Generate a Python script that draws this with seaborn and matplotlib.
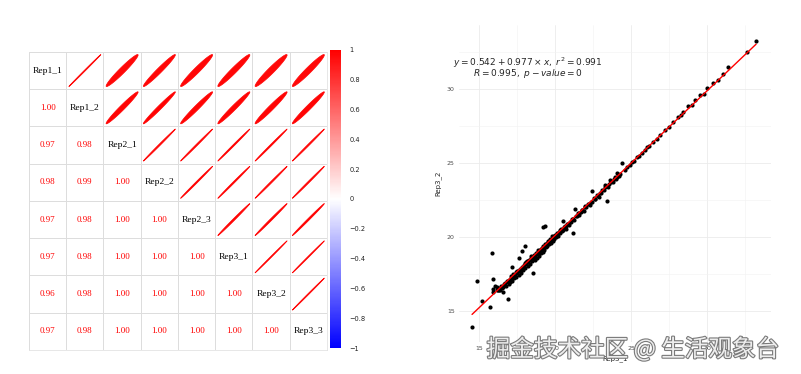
import numpy as np
import matplotlib
matplotlib.use("Agg")
import matplotlib.pyplot as plt
import matplotlib.patheffects as pe
from matplotlib.colors import LinearSegmentedColormap, ListedColormap, Normalize
from matplotlib.cm import ScalarMappable
from matplotlib.patches import Polygon
import seaborn as sns

# %%
samples = ["Rep1_1", "Rep1_2", "Rep2_1", "Rep2_2", "Rep2_3", "Rep3_1", "Rep3_2", "Rep3_3"]

# lower triangle of the correlation matrix (row i, columns 0..i-1)
corr_lower = [
    [0.999],
    [0.968, 0.978],
    [0.976, 0.986, 0.998],
    [0.970, 0.980, 0.998, 0.998],
    [0.970, 0.980, 0.998, 0.998, 0.997],
    [0.964, 0.977, 0.998, 0.998, 0.997, 0.999],
    [0.968, 0.980, 0.998, 0.998, 0.997, 0.999, 0.999],
]

# Rep3_1 vs Rep3_2
rep3_1 = [
    33.22, 32.65, 31.40, 31.02, 30.72, 30.41, 30.02, 29.80, 29.54, 29.21, 29.00, 28.75,
    28.42, 28.30, 28.09, 27.76, 27.50, 27.24, 26.91, 26.70, 26.45, 26.20, 26.05, 25.90,
    25.72, 25.55, 25.39, 25.20, 25.07, 24.90, 24.74, 24.60, 24.39, 24.30, 24.20, 24.10,
    24.08, 24.00, 23.90, 23.80, 23.62, 23.29,
    23.95, 23.70, 23.55, 23.45, 23.40, 23.30, 23.20, 23.10, 23.05, 22.95, 22.85, 22.75,
    22.65, 22.55, 22.41, 22.45, 22.35, 22.25, 22.15, 22.05, 21.95, 21.90, 21.80, 21.70,
    21.60, 21.55, 21.45, 21.35, 21.30, 21.25, 21.20, 21.15, 21.05, 20.95, 20.90, 20.85,
    20.75, 20.70, 20.65, 20.55, 20.50, 20.45, 20.40, 20.30, 20.25, 20.20, 20.15, 20.05,
    20.00, 19.95, 19.90, 19.85, 19.80, 19.75, 19.70, 19.65, 19.60, 19.55, 19.50, 19.45,
    19.40,
    19.35, 19.30, 19.25, 19.23, 19.35, 19.20, 19.15, 19.10, 19.05, 19.00, 18.95, 18.90,
    18.85, 18.80, 18.75, 18.70, 18.65, 18.60, 18.57, 18.55, 18.50, 18.45, 18.40, 18.35,
    18.30, 18.25, 18.20, 18.15, 18.10, 18.05, 18.03, 18.00, 17.95, 17.90, 17.85, 17.80,
    17.75, 17.70, 17.65, 17.60, 17.55, 17.50, 17.45, 17.40, 17.35, 17.30, 17.25, 17.20,
    17.15, 17.10, 17.05, 17.00, 16.95, 16.93, 16.85, 16.80, 16.70, 16.60, 16.55, 16.45,
    16.40, 16.35, 16.25, 16.20, 16.15, 16.05, 15.95, 15.90, 15.94, 15.84, 15.72, 15.20,
    14.89, 14.54,
    # extra points inside the dense band
    22.90, 22.60, 22.30, 22.00, 21.75, 21.50, 21.10, 20.80, 20.60, 20.35, 20.10, 19.88,
    19.62, 19.42, 19.18, 18.98, 18.78, 18.62, 18.42, 18.22, 18.08, 17.88, 17.68, 17.48,
    17.28, 17.12, 16.90, 16.65, 16.50, 16.30,
]
rep3_2 = [
    33.24, 32.52, 31.50, 31.00, 30.61, 30.39, 30.05, 29.70, 29.59, 29.26, 28.90, 28.85,
    28.45, 28.22, 28.11, 27.77, 27.45, 27.23, 26.89, 26.65, 26.42, 26.15, 26.08, 25.85,
    25.68, 25.50, 25.41, 25.15, 25.07, 24.85, 24.73, 24.55, 25.02, 24.25, 24.10, 24.05,
    24.32, 23.90, 23.95, 23.75, 23.85, 23.51,
    24.05, 23.72, 23.60, 23.40, 22.45, 23.35, 23.15, 23.20, 22.95, 23.00, 22.80, 22.85,
    22.60, 22.62, 23.13, 22.40, 22.38, 22.20, 22.25, 22.00, 22.02, 21.75, 21.85, 21.72,
    21.48, 21.62, 21.40, 21.45, 21.87, 21.15, 20.30, 21.20, 21.00, 21.05, 20.80, 20.90,
    20.75, 20.55, 20.72, 20.50, 21.10, 20.40, 20.55, 20.25, 20.35, 20.10, 20.22, 20.00,
    20.15, 19.90, 20.05, 19.75, 20.10, 19.80, 19.60, 19.85, 19.55, 19.70, 19.40, 19.60,
    19.30,
    19.50, 19.10, 19.35, 20.70, 20.75, 19.00, 19.25, 18.90, 19.20, 19.05, 18.75, 19.10,
    18.85, 18.60, 18.95, 18.70, 18.45, 18.80, 17.55, 18.55, 18.35, 18.70, 18.50, 18.20,
    18.45, 18.30, 18.05, 18.40, 18.15, 17.90, 19.39, 18.25, 18.10, 17.75, 19.05, 18.00,
    17.60, 17.85, 18.60, 17.45, 17.70, 17.55, 17.30, 17.65, 17.40, 17.20, 17.50, 17.97,
    17.05, 17.25, 16.95, 17.10, 16.85, 15.80, 17.00, 16.70, 16.90, 16.30, 16.60, 16.70,
    16.45, 16.55, 16.40, 16.60, 16.45, 16.70, 16.50, 16.30, 17.14, 18.90, 15.29, 15.70,
    17.05, 13.90,
    22.70, 22.55, 22.15, 22.10, 21.80, 21.60, 21.25, 20.85, 20.70, 20.45, 20.30, 19.95,
    19.70, 19.45, 19.40, 19.15, 18.90, 18.65, 18.60, 18.35, 18.30, 17.95, 17.80, 17.70,
    17.35, 17.35, 16.95, 16.85, 16.55, 16.45,
]

eq_line1 = r"$y = 0.542 + 0.977 \times x,\ r^2 = 0.991$"
eq_line2 = r"$R = 0.995,\ p-value = 0$"
watermark = "掘金技术社区 @ 生活观象台"

# %%
n = len(samples)
corr = np.eye(n)
for i, row in enumerate(corr_lower, start=1):
    for j, v in enumerate(row):
        corr[i, j] = v
        corr[j, i] = v

sns.set_theme(style="white")
plt.rcParams["mathtext.fontset"] = "dejavusans"

cmap = LinearSegmentedColormap.from_list("bwr_pure", ["#0000ff", "#ffffff", "#ff0000"])
norm = Normalize(vmin=-1, vmax=1)

fig = plt.figure(figsize=(8.01, 3.74), dpi=100)

# %%
# correlogram: ellipses up, numbers down, names on the diagonal
ax1 = fig.add_axes([0.0362, 0.0642, 0.372, 0.797])
sns.heatmap(
    np.zeros((n, n)),
    cmap=ListedColormap(["white"]),
    cbar=False,
    linewidths=0.5,
    linecolor="#dddddd",
    xticklabels=False,
    yticklabels=False,
    ax=ax1,
)
for side in ax1.spines.values():
    side.set_visible(True)
    side.set_color("#dddddd")
    side.set_linewidth(0.5)

serif = "Liberation Serif"
t = np.linspace(0, 2 * np.pi, 120)
for i in range(n):
    for j in range(n):
        r = corr[i, j]
        cx, cy = j + 0.5, i + 0.5
        if i == j:
            ax1.text(cx, cy, samples[i], ha="center", va="center",
                     fontsize=6.8, family=serif, color="black")
        elif i > j:
            ax1.text(cx, cy, f"{r:.2f}", ha="center", va="center",
                     fontsize=6.5, family=serif, color=cmap(norm(r)))
        else:
            d = np.arccos(np.clip(r, -1, 1))
            ex = cx + 0.43 * np.cos(t + d / 2)
            ey = cy - 0.43 * np.cos(t - d / 2)
            ax1.add_patch(Polygon(np.column_stack([ex, ey]), closed=True,
                                  facecolor=cmap(norm(r)), edgecolor=cmap(norm(r)),
                                  linewidth=0.5))

ticks = np.round(np.arange(-1, 1.01, 0.2), 1)
cax = fig.add_axes([0.412, 0.0695, 0.0137, 0.797])
cb = fig.colorbar(ScalarMappable(norm=norm, cmap=cmap), cax=cax, ticks=ticks)
cb.outline.set_visible(False)
cb.ax.set_yticklabels([f"{v:g}".replace("-", "\u2212") if abs(v) > 1e-9 else "0" for v in ticks])
cax.tick_params(length=0, labelsize=4.8, pad=6, colors="#222222")

# %%
# scatter with fitted line
ax2 = fig.add_axes([0.573, 0.0856, 0.3895, 0.8476])
sns.scatterplot(x=rep3_1, y=rep3_2, color="black", s=9, linewidth=0, ax=ax2, zorder=2)
sns.regplot(x=rep3_1, y=rep3_2, scatter=False, ci=None, truncate=True,
            color="red", line_kws={"linewidth": 1.0, "zorder": 3}, ax=ax2)

ax2.set_xlim(13.68, 34.2)
ax2.set_ylim(12.91, 34.33)
ax2.set_xticks([15, 20, 25, 30])
ax2.set_yticks([15, 20, 25, 30])
ax2.set_xticks([17.5, 22.5, 27.5, 32.5], minor=True)
ax2.set_yticks([17.5, 22.5, 27.5, 32.5], minor=True)
ax2.grid(which="major", color="#ebebeb", linewidth=0.6)
ax2.grid(which="minor", color="#f2f2f2", linewidth=0.4)
ax2.set_axisbelow(True)
for side in ax2.spines.values():
    side.set_visible(False)
ax2.tick_params(which="both", length=0, labelsize=4.5, labelcolor="#4d4d4d", pad=3)
ax2.set_xlabel("Rep3_1", fontsize=5, labelpad=3)
ax2.set_ylabel("Rep3_2", fontsize=5, labelpad=4)

fig.text(528 / 801, 1 - 63 / 374, eq_line1, ha="center", va="center", fontsize=6.5)
fig.text(528 / 801, 1 - 73 / 374, eq_line2, ha="center", va="center", fontsize=6.5)

fig.text(633 / 801, 1 - 349 / 374, watermark, ha="center", va="center", fontsize=17,
         family=["Noto Sans CJK SC", "DejaVu Sans"], color="#eeeeee",
         path_effects=[pe.withStroke(linewidth=1.6, foreground="#7a7a7a")])

fig.savefig("out.png", dpi=100)
